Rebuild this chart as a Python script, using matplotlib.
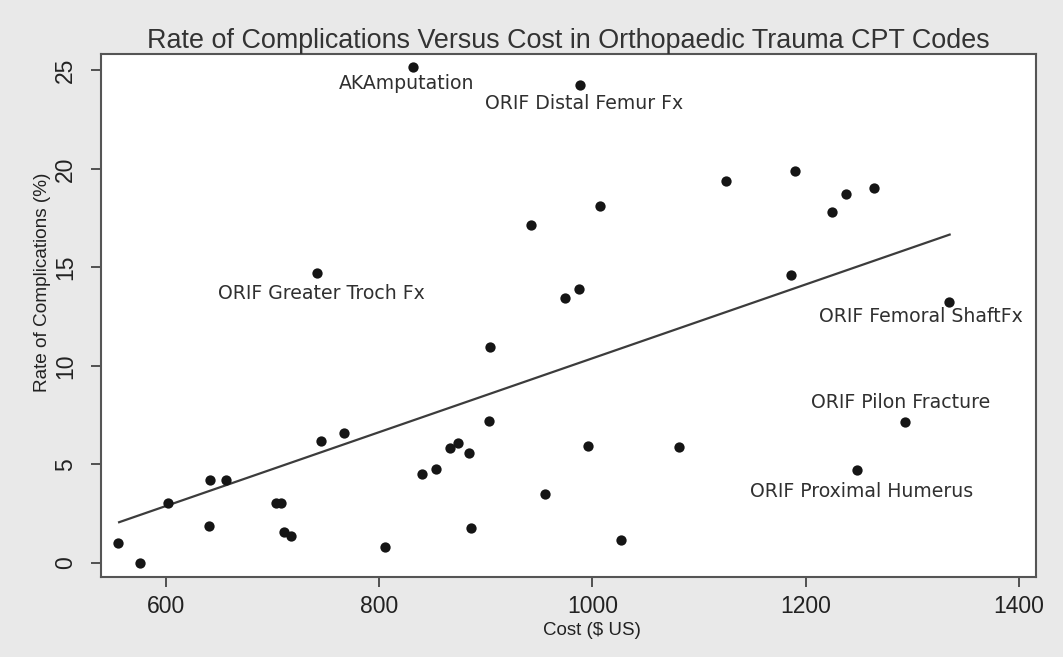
import matplotlib
matplotlib.use("Agg")
import matplotlib.pyplot as plt
import numpy as np

# Data
cost = [555, 576, 602, 641, 656, 640, 703, 708, 711, 717, 745, 767, 805, 840, 853,
        866, 874, 884, 886, 903, 904, 955, 996, 1027, 1081, 974, 987, 942, 1007, 988,
        1125, 832, 742, 1190, 1238, 1264, 1225, 1186, 1334, 1293, 1248]
rate = [1.0, 0.0, 3.03, 4.21, 4.2, 1.88, 3.06, 3.06, 1.59, 1.37, 6.18, 6.58, 0.8, 4.5, 4.77,
        5.82, 6.11, 5.58, 1.79, 7.19, 10.96, 3.49, 5.96, 1.18, 5.91, 13.43, 13.9, 17.16, 18.12, 24.26,
        19.4, 25.16, 14.7, 19.91, 18.73, 19.02, 17.82, 14.64, 13.25, 7.17, 4.72]

fit_slope = 0.01874
fit_intercept = -8.35
fit_x_range = [556, 1335]

labels = ["AKAmputation", "ORIF Distal Femur Fx", "ORIF Greater Troch Fx",
          "ORIF Femoral ShaftFx", "ORIF Pilon Fracture", "ORIF Proximal Humerus"]
label_x = [832, 988, 742, 1334, 1293, 1248]
label_y = [25.16, 24.26, 14.7, 13.25, 7.17, 4.72]

x_ticks = [600, 800, 1000, 1200, 1400]
y_ticks = [0, 5, 10, 15, 20, 25]

# label offsets in pixels (dx right, dy up)
label_offsets_px = [(-7, -16), (4, -18), (4, -20), (-28, -15), (-4, 19), (5, -22)]

sans = ["Liberation Sans", "DejaVu Sans"]

fig = plt.figure(figsize=(10.63, 6.57), dpi=100, facecolor="#e9e9e9")
ax = fig.add_axes([0.095, 0.1218, 0.8796, 0.7962])
ax.set_facecolor("white")

ax.scatter(cost, rate, s=55, color="#151515", zorder=3, linewidths=0)

fx = np.array(fit_x_range, dtype=float)
ax.plot(fx, fit_slope * fx + fit_intercept, color="#3c3c3c", lw=1.6, zorder=2)

for t, x, y, (dx, dy) in zip(labels, label_x, label_y, label_offsets_px):
    ax.annotate(t, (x, y), xytext=(dx * 0.72, dy * 0.72), textcoords="offset points",
                ha="center", va="center", fontsize=13.6, color="#303030",
                family="DejaVu Sans")

ax.set_xlim(539, 1416)
ax.set_ylim(-0.71, 25.84)
ax.set_xticks(x_ticks)
ax.set_yticks(y_ticks)
ax.set_xticklabels([str(v) for v in x_ticks], family=sans, fontsize=16.5, color="#222222")
ax.set_yticklabels([str(v) for v in y_ticks], family=sans, fontsize=16.5, color="#222222",
                   rotation=90, va="center")
ax.tick_params(axis="x", direction="out", length=7, width=1.3, color="#444444", pad=6)
ax.tick_params(axis="y", direction="out", length=7, width=1.3, color="#444444", pad=10)

for s in ax.spines.values():
    s.set_color("#555555")
    s.set_linewidth(1.5)

ax.set_xlabel("Cost ($ US)", family=sans, fontsize=13.5, color="#222222", labelpad=0)
ax.xaxis.set_label_coords(0.525, -0.086)
ax.set_ylabel("Rate of Complications (%)", family=sans, fontsize=13.7, color="#222222")
ax.yaxis.set_label_coords(-0.0535, 0.564)
ax.set_title("Rate of Complications Versus Cost in Orthopaedic Trauma CPT Codes",
             family=sans, fontsize=19.4, color="#333333", pad=4)

fig.savefig("out.png", dpi=100, facecolor=fig.get_facecolor())
